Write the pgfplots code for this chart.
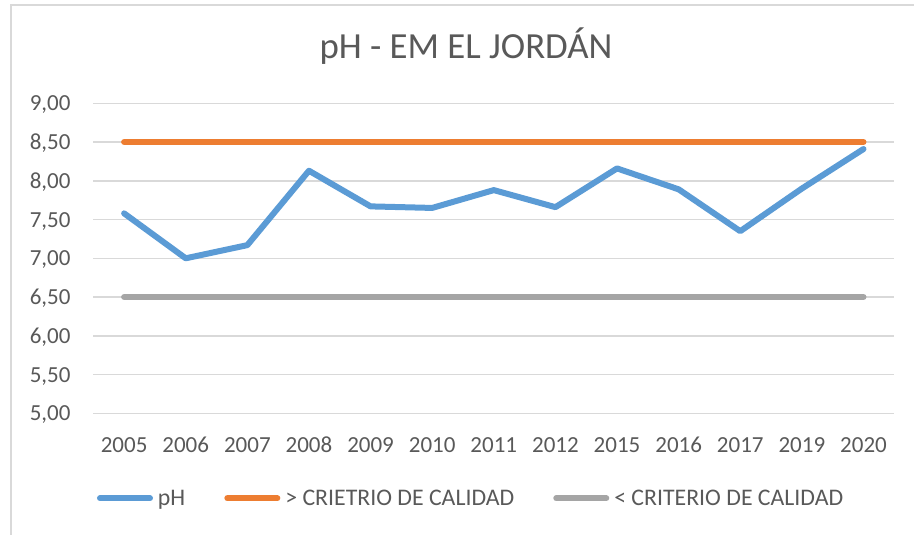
\documentclass[border=0pt]{standalone}
\usepackage{fontspec}
\setmainfont{Carlito}
\usepackage{pgfplots}
\pgfplotsset{compat=1.18}
\definecolor{txt}{HTML}{595959}
\definecolor{grd}{HTML}{D9D9D9}
\definecolor{cblue}{HTML}{5B9BD5}
\definecolor{corange}{HTML}{ED7D31}
\definecolor{cgray}{HTML}{A5A5A5}
\begin{document}
\begin{tikzpicture}
\useasboundingbox (0,0) rectangle (914bp,-535bp);
\draw[grd, line width=1.5bp] (11bp,-535bp) -- (11bp,-5bp) -- (914bp,-5bp);
\begin{axis}[
  at={(93.3bp,-413.3bp)}, anchor=south west,
  scale only axis, width=801bp, height=310bp,
  xmin=-0.5, xmax=12.5, ymin=5, ymax=9,
  xtick={0,...,12},
  xticklabels={2005,2006,2007,2008,2009,2010,2011,2012,2015,2016,2017,2019,2020},
  ytick={5,5.5,6,6.5,7,7.5,8,8.5,9},
  ymajorgrids, grid style={grd, line width=1.5bp},
  axis line style={draw=none},
  major tick length=0pt,
  tick label style={font=\fontsize{23bp}{27bp}\selectfont, text=txt, inner sep=0pt},
  yticklabel style={anchor=base east, xshift=-22.6bp, yshift=-7.6bp},
  xticklabel style={anchor=base, yshift=-38.7bp},
  yticklabel={\pgfmathprintnumber[assume math mode=true, fixed, fixed zerofill, precision=2, use comma]{\tick}},
  legend columns=3,
  legend style={at={(0,0)}, anchor=west, xshift=3.5bp, yshift=-85bp,
    draw=none, fill=none, inner sep=0pt,
    font=\fontsize{23.8bp}{28bp}\selectfont, text=txt,
    nodes={inner sep=0pt},
    /tikz/every odd column/.append style={column sep=5bp},
    /tikz/every even column/.append style={column sep=39bp}},
  legend image code/.code={\draw[#1] (0bp,0bp) -- (50bp,0bp);},
  every axis plot/.append style={line width=6bp, line cap=round, line join=round},
]
\addplot[cblue, mark=none] coordinates {
  (0,7.58) (1,7.00) (2,7.17) (3,8.13) (4,7.67) (5,7.65) (6,7.88)
  (7,7.66) (8,8.16) (9,7.89) (10,7.35) (11,7.90) (12,8.41)};
\addlegendentry{pH}
\addplot[corange, mark=none] coordinates {
  (0,8.5) (1,8.5) (2,8.5) (3,8.5) (4,8.5) (5,8.5) (6,8.5)
  (7,8.5) (8,8.5) (9,8.5) (10,8.5) (11,8.5) (12,8.5)};
\addlegendentry{> CRIETRIO DE CALIDAD}
\addplot[cgray, mark=none] coordinates {
  (0,6.5) (1,6.5) (2,6.5) (3,6.5) (4,6.5) (5,6.5) (6,6.5)
  (7,6.5) (8,6.5) (9,6.5) (10,6.5) (11,6.5) (12,6.5)};
\addlegendentry{< CRITERIO DE CALIDAD}
\end{axis}
\node[font=\fontsize{36.8bp}{44bp}\selectfont, text=txt, anchor=base] at (466bp,-58.3bp) {pH - EM EL JORDÁN};
\end{tikzpicture}
\end{document}
